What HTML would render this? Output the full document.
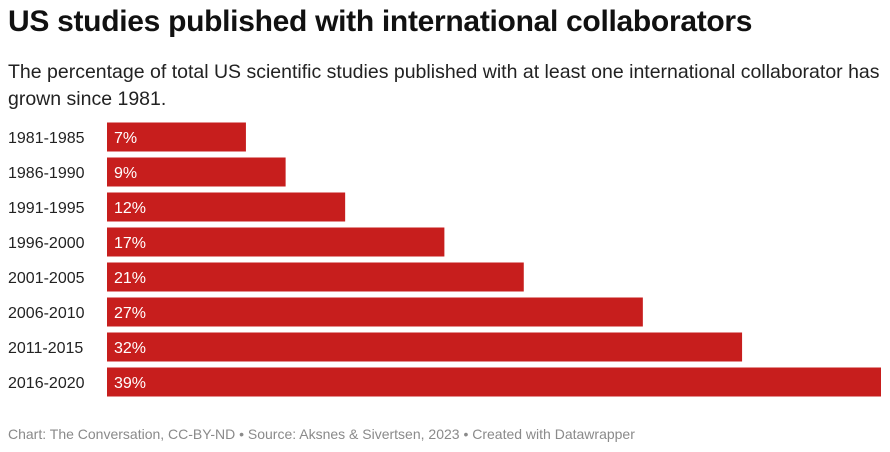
<!DOCTYPE html>
<html><head><meta charset="utf-8"><style>
body{margin:0;background:#fff;font-family:"Liberation Sans",Arial,sans-serif;width:890px;height:452px;overflow:hidden;position:relative}
h1{position:absolute;left:8px;top:5px;margin:0;font-size:30px;font-weight:bold;color:#111;letter-spacing:-0.3px}
.sub{position:absolute;left:8px;top:59px;margin:0;font-size:19.5px;line-height:27px;color:#222;width:880px}
.foot{position:absolute;left:8px;top:426px;font-size:14px;color:#8a8a8a}
</style></head><body>
<h1>US studies published with international collaborators</h1>
<p class="sub">The percentage of total US scientific studies published with at least one international collaborator has grown since 1981.</p>
<svg id="chart" width="890" height="452" style="position:absolute;left:0;top:0"></svg>
<div class="foot">Chart: The Conversation, CC-BY-ND • Source: Aksnes &amp; Sivertsen, 2023 • Created with Datawrapper</div>
<script>
const categories=["1981-1985","1986-1990","1991-1995","1996-2000","2001-2005","2006-2010","2011-2015","2016-2020"];
const values=[7,9,12,17,21,27,32,39];
const valueLabels=["7%","9%","12%","17%","21%","27%","32%","39%"];
const svg=document.getElementById('chart');
const NS="http://www.w3.org/2000/svg";
const x0=107,x1=881,maxV=39;
const xScale=v=>x0+(v/maxV)*(x1-x0);
const yTop=122.5,pitch=35,bh=29;
const yScale=i=>yTop+i*pitch;
categories.forEach((c,i)=>{
  const y=yScale(i);
  const lab=document.createElementNS(NS,'text');
  
  
  lab.setAttribute('x',8);lab.setAttribute('y',y+bh/2+6);
  lab.setAttribute('font-size','16');lab.setAttribute('fill','#222');
  lab.setAttribute('font-family','Liberation Sans, Arial, sans-serif');
  lab.textContent=c;svg.appendChild(lab);
  const r=document.createElementNS(NS,'rect');
  
  
  r.setAttribute('x',x0);r.setAttribute('y',y);
  r.setAttribute('width',xScale(values[i])-x0);r.setAttribute('height',bh);
  r.setAttribute('fill','#c71e1d');svg.appendChild(r);
  const t=document.createElementNS(NS,'text');
  
  
  t.setAttribute('x',x0+7);t.setAttribute('y',y+bh/2+6);
  t.setAttribute('font-size','16');t.setAttribute('fill','#fff');
  t.setAttribute('font-family','Liberation Sans, Arial, sans-serif');
  t.textContent=valueLabels[i];svg.appendChild(t);
});
</script>
</body></html>
